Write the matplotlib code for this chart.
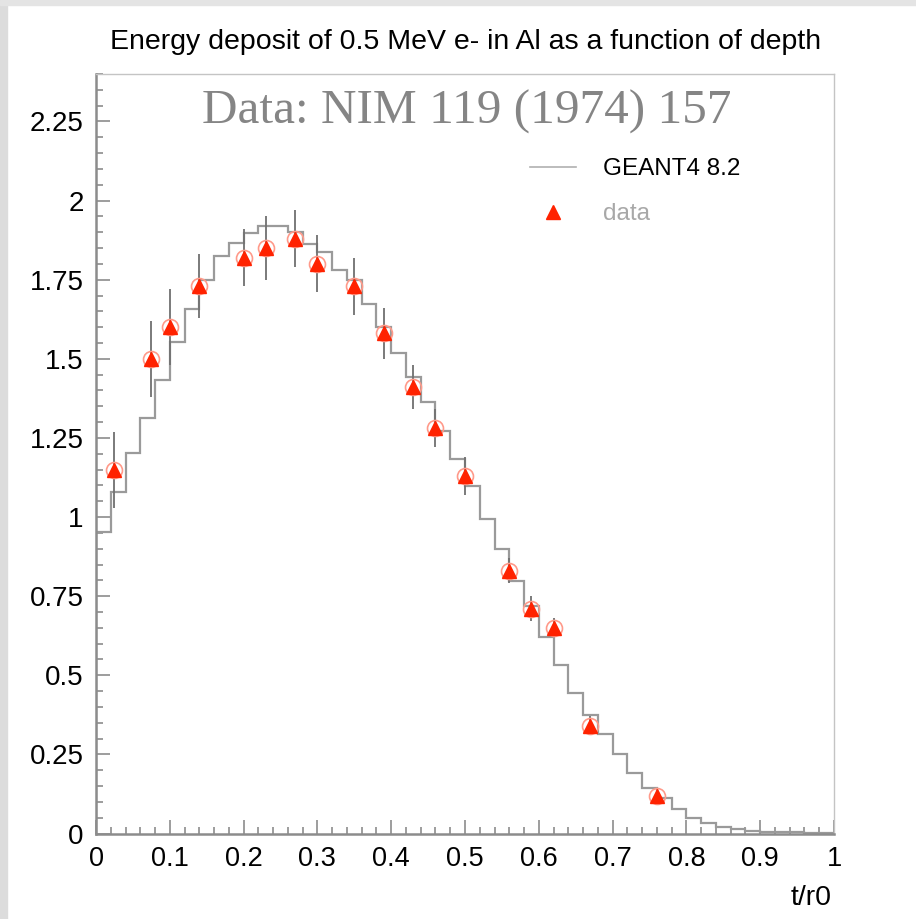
import numpy as np
import matplotlib
matplotlib.use('Agg')
import matplotlib.pyplot as plt
from matplotlib.lines import Line2D
from matplotlib.patches import Rectangle
from matplotlib.ticker import MultipleLocator, FormatStrFormatter

# GEANT4 8.2 histogram, 50 bins of width 0.02 in t/r0
bin_edges = np.linspace(0, 1, 51)
geant4 = [0.953, 1.080, 1.201, 1.312, 1.433, 1.554, 1.657, 1.749, 1.825, 1.865,
          1.898, 1.919, 1.919, 1.901, 1.863, 1.838, 1.780, 1.749, 1.672, 1.601,
          1.517, 1.441, 1.362, 1.272, 1.183, 1.098, 0.994, 0.898, 0.798, 0.719,
          0.621, 0.533, 0.445, 0.375, 0.314, 0.252, 0.190, 0.145, 0.111, 0.076,
          0.050, 0.034, 0.019, 0.013, 0.008, 0.006, 0.005, 0.004, 0.002, 0.001]

# measured points (NIM 119 (1974) 157)
depth = [0.025, 0.075, 0.10, 0.14, 0.20, 0.23, 0.27, 0.30, 0.35, 0.39,
         0.43, 0.46, 0.50, 0.56, 0.59, 0.62, 0.67, 0.76]
edep = [1.15, 1.50, 1.60, 1.73, 1.82, 1.85, 1.88, 1.80, 1.73, 1.58,
        1.41, 1.28, 1.13, 0.83, 0.71, 0.65, 0.34, 0.12]
edep_err = [0.12, 0.12, 0.12, 0.10, 0.09, 0.10, 0.09, 0.09, 0.09, 0.08,
            0.07, 0.06, 0.06, 0.04, 0.04, 0.03, 0.03, 0.015]

plt.rcParams['font.family'] = ['Liberation Sans', 'DejaVu Sans']

W, H = 916, 919
fig = plt.figure(figsize=(W / 100, H / 100), dpi=100)
fig.patch.set_facecolor('white')
# window edge
fig.patches.append(Rectangle((0, 0), 7 / W, 1, transform=fig.transFigure,
                             color='#dcdcdc', zorder=0))
fig.patches.append(Rectangle((0, 1 - 5 / H), 1, 5 / H, transform=fig.transFigure,
                             color='#e4e4e4', zorder=0))

ax = fig.add_axes([96 / W, 1 - 833.5 / H, 738 / W, 759.5 / H])

ax.stairs(geant4, bin_edges, color='#9a9a9a', lw=1.6, zorder=2)
ax.errorbar(depth, edep, yerr=edep_err, fmt='none', ecolor='#707070',
            elinewidth=1.3, capsize=0, zorder=3)
ax.plot(depth, edep, 'o', ms=11.5, mfc='none', mec='#ff9a8a', mew=1.2, zorder=4)
ax.plot(depth, edep, '^', ms=10, color='#ff2200', mec='#ff2200', zorder=5)

ax.set_xlim(0, 1)
ax.set_ylim(0, 2.4)
ax.xaxis.set_major_locator(MultipleLocator(0.1))
ax.xaxis.set_minor_locator(MultipleLocator(0.02))
ax.yaxis.set_major_locator(MultipleLocator(0.25))
ax.yaxis.set_minor_locator(MultipleLocator(0.05))
ax.xaxis.set_major_formatter(FormatStrFormatter('%g'))
ax.yaxis.set_major_formatter(FormatStrFormatter('%g'))
ax.tick_params(which='both', direction='in', colors='#8c8c8c', labelcolor='black',
               top=False, right=False, width=1.2)
ax.tick_params(which='major', length=10)
ax.tick_params(axis='y', which='major', pad=9, labelsize=20)
ax.tick_params(axis='x', which='major', pad=9, labelsize=19.5)
ax.tick_params(which='minor', length=5)

for s in ['left', 'bottom']:
    ax.spines[s].set_color('#8c8c8c')
    ax.spines[s].set_linewidth(1.8)
for s in ['top', 'right']:
    ax.spines[s].set_color('#c4c4c4')
    ax.spines[s].set_linewidth(1.0)

fig.text(466 / W, 1 - 42 / H, 'Energy deposit of 0.5 MeV e- in Al as a function of depth',
         ha='center', va='center', fontsize=20.5)
fig.text(467 / W, 1 - 112 / H, 'Data: NIM 119 (1974) 157', ha='center', va='center',
         fontsize=35.5, color='#858585', family='Liberation Serif')
fig.text(832 / W, 1 - 898 / H, 't/r0', ha='right', va='center', fontsize=20.5)

handles = [Line2D([], [], color='#b0b0b0', lw=1.2),
           Line2D([], [], ls='none', marker='^', ms=9.5, color='#ff2200')]
leg = ax.legend(handles, ['GEANT4 8.2', 'data'], loc='upper left',
                bbox_to_anchor=(0.588, 0.889), frameon=False, fontsize=17.5,
                handlelength=1.9, handletextpad=1.1, labelspacing=0.95,
                borderpad=0, borderaxespad=0)
leg.get_texts()[1].set_color('#a8a8a8')

fig.savefig('out.png', dpi=100)
